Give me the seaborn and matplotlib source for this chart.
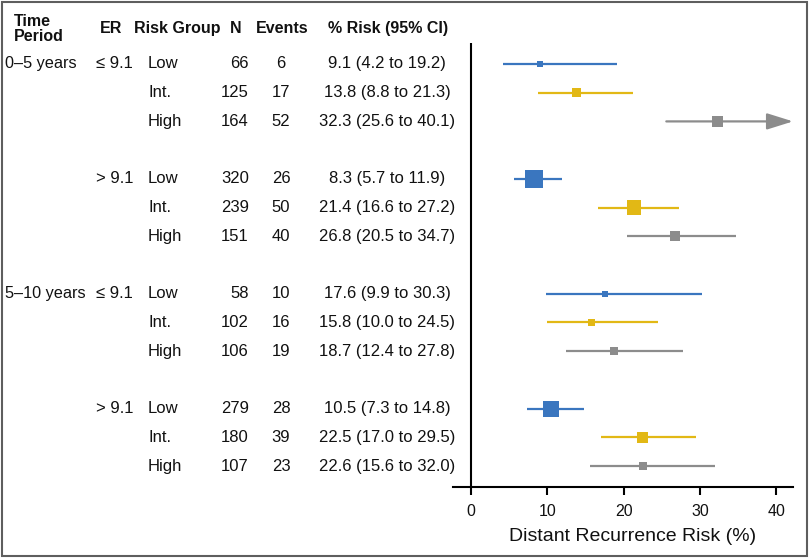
import numpy as np
import pandas as pd
import matplotlib
matplotlib.use("Agg")
import matplotlib.pyplot as plt
import matplotlib.transforms as mtransforms
from matplotlib.patches import Rectangle
import seaborn as sns

# table data
periods = ['0\u20135 years'] * 6 + ['5\u201310 years'] * 6
er_groups = ['\u2264 9.1'] * 3 + ['> 9.1'] * 3 + ['\u2264 9.1'] * 3 + ['> 9.1'] * 3
risk_groups = ['Low', 'Int.', 'High'] * 4
n_pts = [66, 125, 164, 320, 239, 151, 58, 102, 106, 279, 180, 107]
events = [6, 17, 52, 26, 50, 40, 10, 16, 19, 28, 39, 23]
risk = [9.1, 13.8, 32.3, 8.3, 21.4, 26.8, 17.6, 15.8, 18.7, 10.5, 22.5, 22.6]
ci_lo = [4.2, 8.8, 25.6, 5.7, 16.6, 20.5, 9.9, 10.0, 12.4, 7.3, 17.0, 15.6]
ci_hi = [19.2, 21.3, 40.1, 11.9, 27.2, 34.7, 30.3, 24.5, 27.8, 14.8, 29.5, 32.0]

df = pd.DataFrame({'period': periods, 'er': er_groups, 'group': risk_groups,
                   'n': n_pts, 'events': events, 'risk': risk,
                   'lo': ci_lo, 'hi': ci_hi})
# one blank row between blocks of three
df['row'] = df.index + df.index // 3

palette = {'Low': '#3a76bf', 'Int.': '#e2b815', 'High': '#8c8c8c'}

sns.set_theme(style='white')
plt.rcParams['font.family'] = ['Liberation Sans', 'DejaVu Sans']

W, H = 810, 558
fig = plt.figure(figsize=(W / 100, H / 100), dpi=100)
ax = fig.add_axes([453 / W, 1 - 487 / H, (793 - 453) / W, (487 - 43) / H])

xmax = 42.2
ax.set_xlim(-2.35, xmax)
ax.set_ylim(14.73, -0.73)

# confidence intervals
for _, r in df.iterrows():
    c = palette[r['group']]
    if r['hi'] > 40:
        ax.annotate('', xy=(xmax, r['row']), xytext=(r['lo'], r['row']),
                    arrowprops=dict(arrowstyle='-|>,head_length=16,head_width=5',
                                    mutation_scale=1, color=c, lw=1.6,
                                    shrinkA=0, shrinkB=0),
                    annotation_clip=False)
    else:
        ax.hlines(r['row'], r['lo'], r['hi'], color=c, lw=1.6)

# box side grows with N
side_px = 2.9 + 0.047 * df['n']
sns.scatterplot(data=df, x='risk', y='row', hue='group', palette=palette,
                marker='s', s=(side_px * 0.72) ** 2, linewidth=0,
                legend=False, ax=ax, zorder=3)

ax.axvline(0, color='black', lw=1.5, ymin=0, ymax=1)
for s in ['top', 'right', 'left']:
    ax.spines[s].set_visible(False)
ax.spines['bottom'].set_color('black')
ax.spines['bottom'].set_linewidth(1.5)
ax.set_yticks([])
ax.set_xticks([0, 10, 20, 30, 40])
ax.tick_params(axis='x', bottom=True, direction='out', length=6, width=1.5,
               color='black', pad=6, labelsize=11.5, labelcolor='#111111')
ax.set_xlabel('Distant Recurrence Risk (%)', fontsize=14, color='#111111')
ax.xaxis.set_label_coords(0.527, -0.092)
ax.set_ylabel('')

# text table on the left
tr = mtransforms.blended_transform_factory(fig.transFigure, ax.transData)
fs = 12
hy = -1.22
hdr = dict(transform=tr, fontsize=11.5, fontweight='bold', va='center', color='#111111')
fig.text(14 / W, hy, 'Time\nPeriod', ha='left', linespacing=1.05, **hdr)
fig.text(111 / W, hy, 'ER', ha='center', **hdr)
fig.text(134 / W, hy, 'Risk Group', ha='left', **hdr)
fig.text(236 / W, hy, 'N', ha='center', **hdr)
fig.text(282 / W, hy, 'Events', ha='center', **hdr)
fig.text(388 / W, hy, '% Risk (95% CI)', ha='center', **hdr)

cell = dict(transform=tr, fontsize=fs, va='center', color='#111111')
for i, r in df.iterrows():
    y = r['row']
    if i % 6 == 0:
        fig.text(5 / W, y, r['period'], ha='left', transform=tr, fontsize=11.7,
                 va='center', color='#111111')
    if i % 3 == 0:
        fig.text(96 / W, y, r['er'], ha='left', **cell)
    fig.text(148 / W, y, r['group'], ha='left', **cell)
    fig.text(249 / W, y, str(r['n']), ha='right', **cell)
    fig.text(281 / W, y, str(r['events']), ha='center', **cell)
    fig.text(387 / W, y, f"{r['risk']:.1f} ({r['lo']:.1f} to {r['hi']:.1f})",
             ha='center', **cell)

# frame round the figure
fig.patches.append(Rectangle((1.5 / W, 2.5 / H), 805 / W, 554 / H,
                             transform=fig.transFigure, fill=False,
                             edgecolor='#5e5e5e', lw=1.5))

fig.savefig('out.png', dpi=100)
